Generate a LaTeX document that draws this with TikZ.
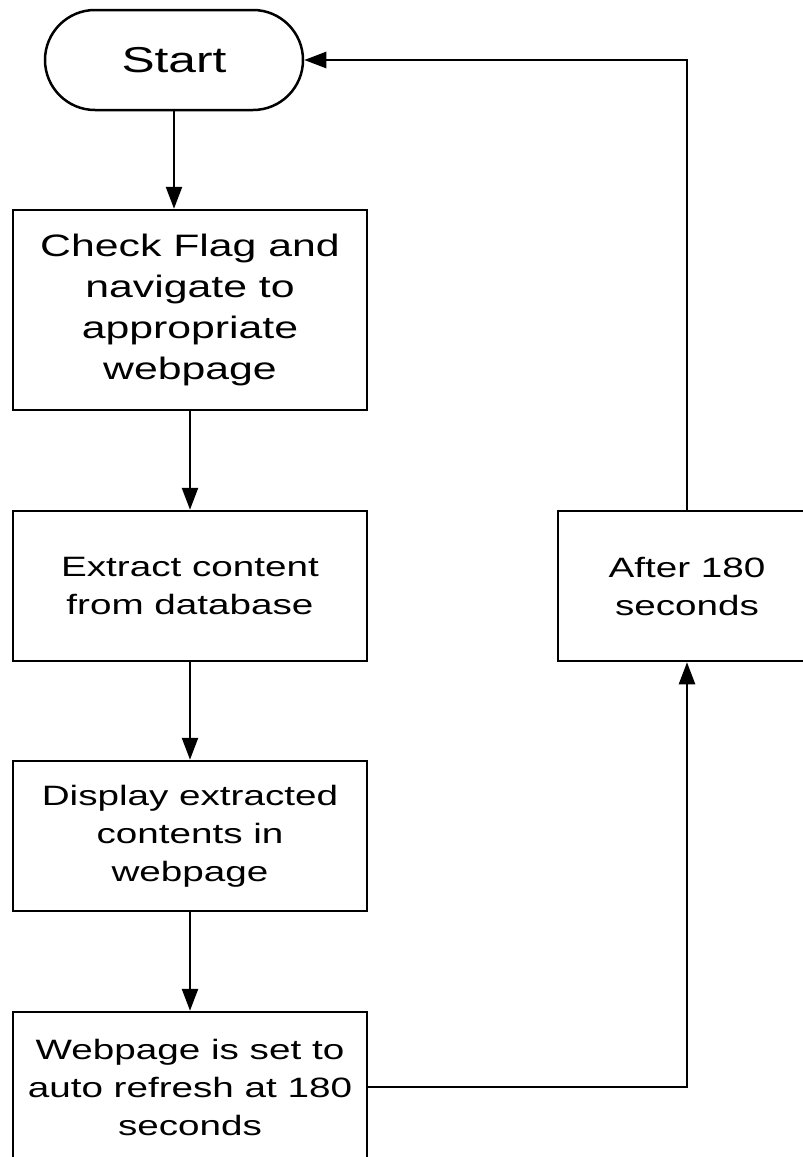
\documentclass[tikz,border=0pt]{standalone}
\usepackage{fontspec}
\setmainfont[FakeStretch=1.38]{Liberation Sans}
\usetikzlibrary{arrows.meta}
\begin{document}
\begin{tikzpicture}[x=1pt,y=1pt,
  every node/.style={font=\fontsize{28}{38}\selectfont},
  box/.style={draw, line width=2.5pt, align=center, inner sep=0pt, minimum width=354pt, minimum height=150pt},
  term/.style={draw, line width=2.5pt, rounded corners=50pt, minimum width=258pt, minimum height=100pt, inner sep=0pt, font=\fontsize{36}{40}\selectfont},
  conn/.style={line width=2.5pt, -{Triangle[length=22pt,width=16pt]}},
  plain/.style={line width=2.5pt}]
\useasboundingbox (0,0) rectangle (803,-1157);
\clip (0,0) rectangle (803,-1157);
\node[term] (start) at (174,-60) {Start};
\node[box, minimum height=200pt, font=\fontsize{31}{41}\selectfont] (b1) at (190,-310) {Check Flag and\\navigate to\\appropriate\\webpage};
\node[box] (b2) at (190,-586) {Extract content\\from database};
\node[box] (b3) at (190,-836) {Display extracted\\contents in\\webpage};
\node[box] (b4) at (190,-1087) {Webpage is set to\\auto refresh at 180\\seconds};
\node[box, minimum width=258pt] (b5) at (687,-586) {After 180\\seconds};
\draw[conn] (start.south) -- (start.south |- b1.north);
\draw[conn] (b1.south) -- (b2.north);
\draw[conn] (b2.south) -- (b3.north);
\draw[conn] (b3.south) -- (b4.north);
\draw[conn] (b4.east) -- (b4.east -| b5.south) -- (b5.south);
\draw[conn] (b5.north) -- (b5.north |- start.east) -- (start.east);
\end{tikzpicture}
\end{document}
